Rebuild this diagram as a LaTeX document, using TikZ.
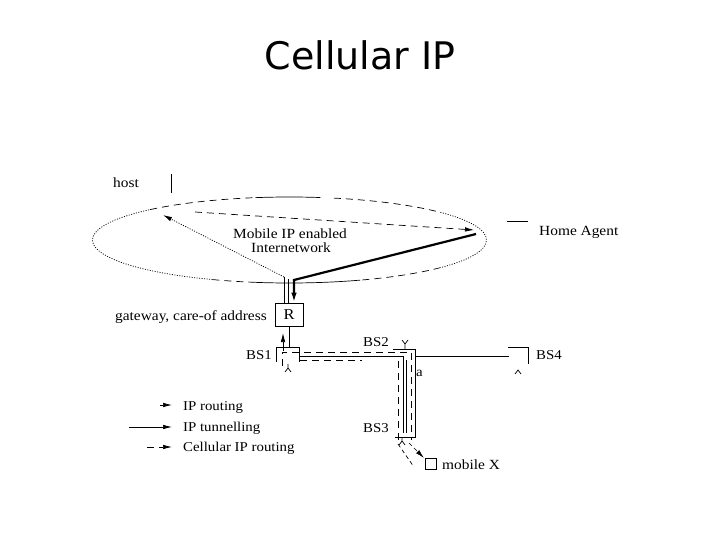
\documentclass[tikz,border=0pt]{standalone}
\usepackage{fontspec}
\setmainfont{Liberation Serif}[FakeStretch=1.1]
\newfontfamily\titlefont{DejaVu Sans}
\usetikzlibrary{arrows.meta}
\begin{document}
\begin{tikzpicture}[x=1pt,y=-1pt,
  lbl/.style={font=\fontsize{14}{16}\selectfont, inner sep=0pt, anchor=base west},
  slbl/.style={font=\fontsize{13.5}{15}\selectfont, inner sep=0pt, anchor=base west},
  ln/.style={line width=0.7pt},
  dsh/.style={line width=0.7pt, dash pattern=on 7pt off 5pt},
  dts/.style={line width=0.75pt, dash pattern=on 1pt off 1.5pt},
  tip/.style={-{Latex[length=9pt,width=4.5pt]}},
  thick tip/.style={-{Latex[length=10pt,width=5.5pt]}},
  ellr/.style={x radius=197, y radius=43}
]
\useasboundingbox (0,0) rectangle (720,540);
% title
\node[font=\titlefont\fontsize{38}{40}\selectfont, anchor=base, inner sep=0pt] (title) at (360,70) {Cellular IP};

% ellipse (internetwork)
\coordinate (ec) at (289.5,240);
\draw[dts] (ec) ++(113:197 and 43) arc[start angle=113, end angle=225, ellr];
\draw[dsh] (ec) ++(225:197 and 43) arc[start angle=225, end angle=260, ellr];
\draw[ln] (ec) ++(260:197 and 43) arc[start angle=260, end angle=279, ellr];
\draw[dsh] (ec) ++(283:197 and 43) arc[start angle=283, end angle=320, ellr];
\draw[dts] (ec) ++(-40:197 and 43) arc[start angle=-40, end angle=40, ellr];
\draw[dsh] (ec) ++(40:197 and 43) arc[start angle=40, end angle=69, ellr];
\draw[ln] (ec) ++(69:197 and 43) arc[start angle=69, end angle=100, ellr];
\draw[dsh] (ec) ++(100:197 and 43) arc[start angle=100, end angle=113, ellr];
\node[lbl, anchor=base] (mip) at (290,238) {Mobile IP enabled};
\node[lbl, anchor=base] (inet) at (291,252) {Internetwork};

% host and home agent
\node[lbl] (host) at (113,188) {host};
\coordinate (hostA) at (171,174);
\coordinate (hostB) at (171,193);
\draw[ln] (hostA) -- (hostB);
\node[lbl] (ha) at (539,236) {Home Agent};
\coordinate (haA) at (507,221);
\coordinate (haB) at (528,221);
\draw[ln] (haA) -- (haB);

% gateway R
\node[draw, ln, minimum width=28pt, minimum height=23pt, inner sep=0pt, font=\fontsize{15}{17}\selectfont] (R) at (289,314.5) {R};
\node[lbl, anchor=base east] (gw) at (267,320) {gateway, care-of address};
\coordinate (up1) at (284,277);
\coordinate (up2) at (288,279);
\draw[ln] (up1) -- (up1 |- R.north);
\draw[ln] (up2) -- (up2 |- R.north);

% routes in the internetwork
\coordinate (hostTip) at (163,215);
\coordinate (cipS) at (195,212);
\coordinate (haTip) at (474,230);
\coordinate (haEnd) at (476,234);
\coordinate (bend) at (294,280);
\draw[dts, tip] (up1) -- (hostTip);
\draw[dsh, tip] (cipS) -- (haTip);
\draw[line width=2.2pt, thick tip] (haEnd) -- (bend) -- (bend |- R.north);

% BS1
\coordinate (b1a) at (276,362);
\coordinate (b1b) at (276,347);
\coordinate (b1c) at (299,347);
\coordinate (b1d) at (299,362);
\draw[ln] (b1a) -- (b1b) -- (b1c) -- (b1d);
\node[slbl, anchor=base east] (bs1) at (272,359) {BS1};
\draw[ln] (R.south) -- (R.south |- b1b);
\coordinate (arS) at (283,351);
\coordinate (arT) at (283,333);
\draw[ln, tip] (arS) -- (arT);
\draw[ln] (285,372) -- (288,368) -- (291,372) (288,368) -- (288,364);

% BS2 / BS3
\coordinate (b2a) at (393,349);
\coordinate (b2b) at (415,349);
\coordinate (b3b) at (415,437);
\coordinate (b3a) at (395,437);
\draw[ln] (b2a) -- (b2b) -- (b3b) -- (b3a);
\node[slbl] (bs2) at (363,346) {BS2};
\node[slbl] (bs3) at (363,432) {BS3};
\node[slbl] (a) at (416,376) {a};
\draw[ln] (402,340) -- (405,344) -- (408,340) (405,344) -- (405,349);
\draw[ln] (399,445) -- (402,441) -- (405,445) (402,441) -- (402,437);

% solid links
\coordinate (s1) at (299,356);
\coordinate (s2) at (403,356);
\coordinate (s3) at (403,433);
\draw[ln] (s1) -- (s2) -- (s3);
\draw[ln] (406,360) -- (406,433);

% BS4
\coordinate (b4a) at (508,347);
\coordinate (b4b) at (528,347);
\coordinate (b4c) at (528,364);
\draw[ln] (b4a) -- (b4b) -- (b4c);
\draw[ln] (415,356) -- (509,356);
\node[slbl] (bs4) at (536,359) {BS4};
\draw[ln] (515,374) -- (518,370) -- (521,374);

% cellular IP routing paths
\draw[dsh] (282,366) -- (282,352) -- (411,352) -- (411,440);
\draw[dsh] (300,360) -- (362,360);
\draw[dsh] (398,361) -- (398,441);

% mobile X
\node[draw, ln, minimum size=11pt, inner sep=0pt] (mob) at (431,463.5) {};
\node[lbl] (mx) at (442,469) {mobile X};
\draw[dsh, dash pattern=on 4pt off 3pt] (398,444) -- (414,467);
\draw[dsh, dash pattern=on 4pt off 3pt, tip] (409,443) -- (424,458);

% legend
\coordinate (l1s) at (160,405);
\coordinate (l1e) at (172,405);
\draw[ln, tip] (l1s) -- (l1e);
\node[slbl] (t1) at (183,410) {IP routing};
\coordinate (l2s) at (129,427);
\coordinate (l2e) at (172,427);
\draw[ln, tip] (l2s) -- (l2e);
\node[slbl] (t2) at (183,431) {IP tunnelling};
\coordinate (l3s) at (147,447);
\coordinate (l3e) at (172,447);
\draw[dsh, tip] (l3s) -- (l3e);
\node[slbl] (t3) at (183,451) {Cellular IP routing};
\end{tikzpicture}
\end{document}
